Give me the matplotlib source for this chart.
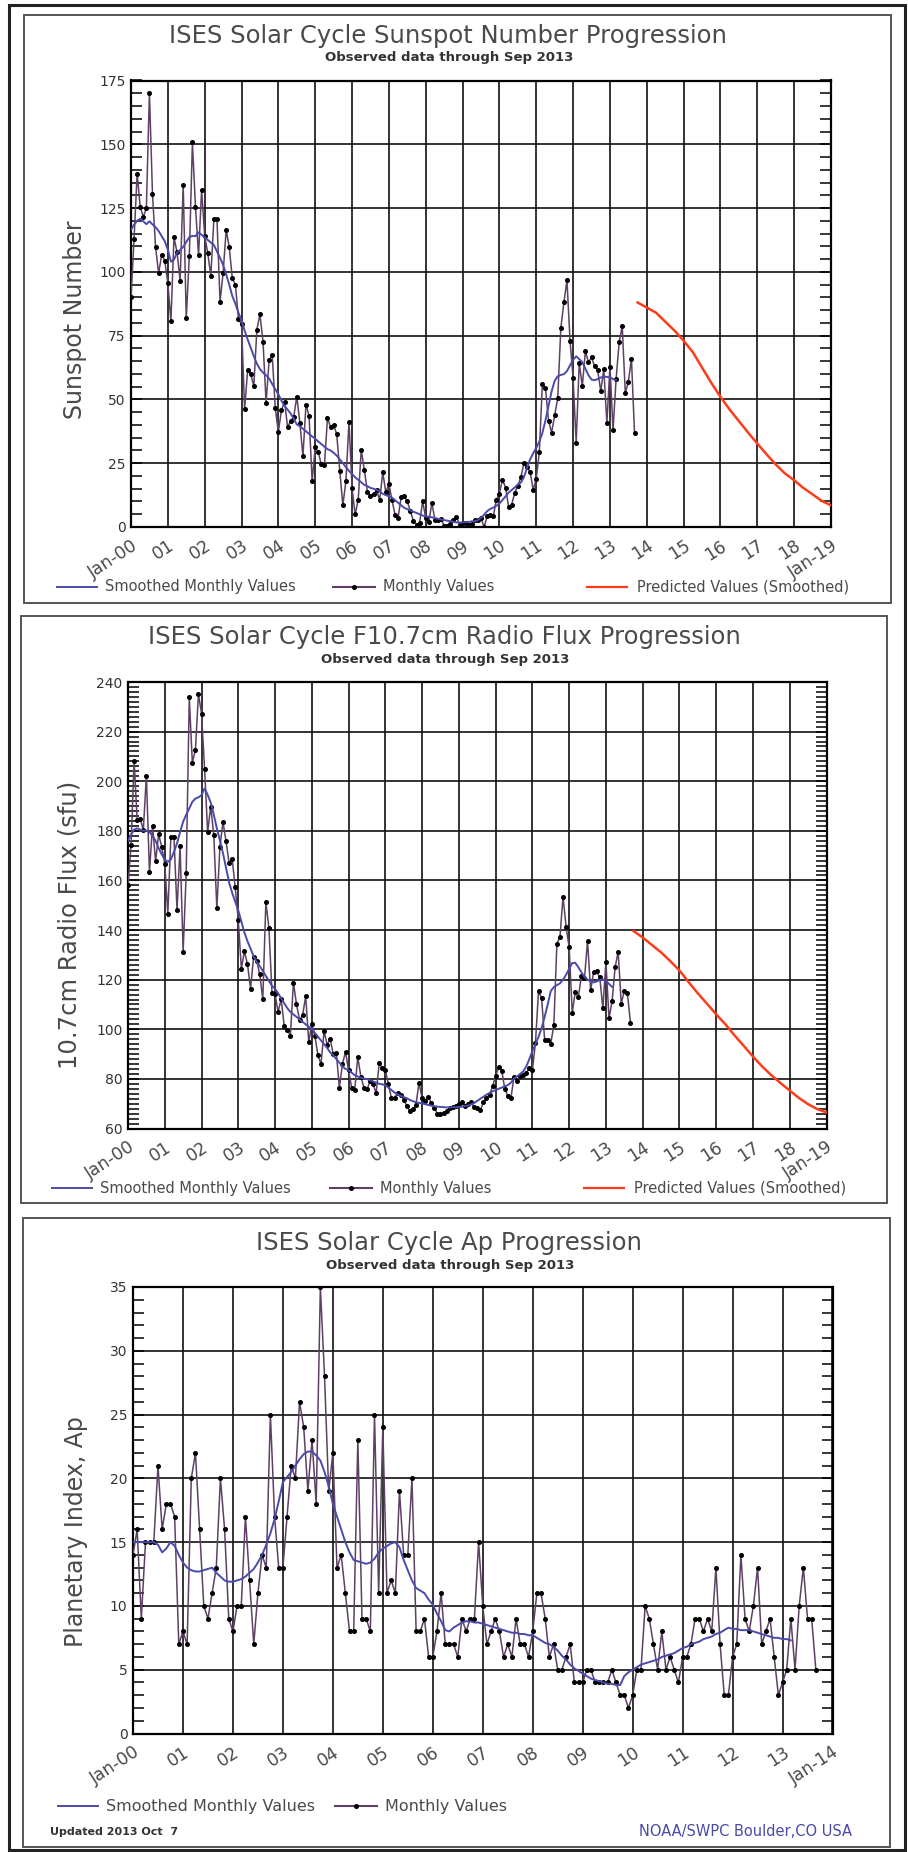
import numpy as np
import matplotlib
matplotlib.use("Agg")
from matplotlib import pyplot as plt
from matplotlib.ticker import MultipleLocator, FixedLocator
from matplotlib.patches import Rectangle

W, H = 908, 1852

# ---- sunspot number (Jan 2000 .. Sep 2013) ----
ssn_monthly = [
    90.1, 112.9, 138.5, 125.5, 121.6, 124.9, 170.1, 130.5, 109.7, 99.4, 106.8, 104.4,
    95.6, 80.6, 113.5, 107.7, 96.6, 134.0, 81.8, 106.4, 150.7, 125.5, 106.5, 132.2,
    114.1, 107.4, 98.4, 120.7, 120.8, 88.3, 99.6, 116.4, 109.6, 97.5, 95.0, 81.6,
    79.5, 46.2, 61.5, 60.0, 55.2, 77.4, 83.3, 72.7, 48.7, 65.5, 67.3, 46.5,
    37.3, 45.8, 49.1, 39.3, 41.5, 43.2, 51.1, 40.9, 27.7, 48.0, 43.5, 17.9,
    31.3, 29.2, 24.5, 24.2, 42.7, 39.3, 40.0, 36.4, 22.1, 8.5, 18.0, 41.2,
    15.3, 4.9, 10.6, 30.2, 22.3, 13.9, 12.2, 12.9, 14.4, 10.5, 21.4, 13.6,
    16.9, 10.6, 4.8, 3.7, 11.7, 12.0, 10.0, 6.2, 2.4, 0.9, 1.7, 10.1,
    3.4, 2.1, 9.3, 2.9, 2.9, 3.1, 0.5, 0.5, 1.1, 2.9, 4.1, 0.8,
    1.5, 1.4, 0.7, 1.2, 2.9, 2.6, 3.5, 0.0, 4.2, 4.6, 4.2, 10.6,
    13.1, 18.6, 15.4, 7.9, 8.8, 13.5, 16.1, 19.6, 25.2, 23.5, 21.6, 14.5,
    19.0, 29.4, 56.2, 54.4, 41.6, 37.0, 43.9, 50.6, 78.0, 88.0, 96.7, 73.0,
    58.3, 33.1, 64.2, 55.2, 69.0, 64.5, 66.5, 63.0, 61.4, 53.3, 61.8, 40.8,
    62.9, 38.1, 57.9, 72.4, 78.7, 52.5, 57.0, 66.0, 36.9,
]
ssn_smoothed = [
    116.5, 118.5, 120.0, 120.8, 119.8, 118.7, 119.8, 118.6, 117.5, 116.0, 114.0, 112.0,
    108.7, 104.0, 104.8, 107.5, 108.6, 109.8, 111.7, 113.6, 114.1, 114.0, 115.5, 114.5,
    113.5, 112.5, 111.5, 110.5, 108.0, 105.5, 102.7, 99.0, 95.0, 90.5, 87.5, 84.0,
    80.9, 77.0, 73.5, 70.2, 67.0, 64.0, 61.9, 60.5, 59.5, 58.2, 56.0, 54.0,
    52.0, 49.5, 47.5, 46.0, 44.5, 42.5, 40.2, 39.5, 38.5, 37.5, 36.5, 35.5,
    34.6, 33.5, 32.5, 31.5, 30.5, 30.0, 29.1, 28.0, 26.5, 25.0, 23.5, 22.0,
    20.8, 19.5, 18.5, 17.5, 16.5, 16.0, 15.3, 15.0, 14.5, 14.0, 13.0, 12.5,
    12.0, 11.5, 10.5, 9.5, 8.5, 7.5, 7.0, 6.5, 6.0, 5.5, 5.0, 4.5,
    4.2, 4.0, 3.8, 3.5, 3.2, 3.0, 2.7, 2.5, 2.3, 2.0, 1.8, 1.7,
    1.8, 1.9, 2.0, 2.2, 2.3, 2.7, 3.6, 4.8, 6.2, 7.1, 7.6, 8.3,
    9.2, 10.6, 12.0, 13.5, 14.5, 15.5, 16.7, 17.4, 19.6, 23.2, 26.5, 28.9,
    31.0, 33.5, 36.9, 41.8, 47.6, 53.2, 57.3, 59.1, 59.6, 59.9, 61.1, 63.4,
    65.5, 66.9, 65.8, 64.6, 62.0, 59.5, 57.8, 57.5, 58.0, 58.6, 59.0, 58.8,
    58.7, 58.0, 57.5,
]
# predicted values, years after Jan 2000
pred_years = [13.75, 14.0, 14.25, 14.5, 14.75, 15.0, 15.25, 15.5, 15.75, 16.0, 16.25,
              16.5, 16.75, 17.0, 17.25, 17.5, 17.75, 18.0, 18.25, 18.5, 18.75, 19.0]
ssn_pred = [88, 86, 84, 80.5, 77, 73, 68.5, 62.5, 56.5, 51, 46, 41.5, 37, 32.7,
            28.5, 24.5, 21, 18.3, 15.3, 12.8, 10.2, 8.5]

# ---- F10.7 radio flux ----
f107_monthly = [
    158.1, 174.1, 208.2, 184.2, 184.8, 180.3, 202.3, 163.3, 182.1, 167.7, 178.6, 173.6,
    166.6, 146.6, 177.7, 177.5, 148.0, 173.7, 131.3, 163.1, 233.9, 207.5, 212.6, 235.1,
    227.3, 205.0, 179.5, 189.8, 178.4, 148.7, 173.5, 183.6, 175.8, 167.0, 168.7, 157.2,
    144.0, 124.5, 131.4, 126.3, 116.3, 129.3, 127.7, 122.1, 112.2, 151.3, 140.8, 114.8,
    114.1, 107.0, 112.1, 101.2, 99.8, 97.4, 118.8, 110.1, 103.7, 105.7, 113.3, 95.0,
    102.1, 97.3, 89.5, 86.0, 99.3, 93.8, 96.0, 90.0, 90.4, 76.5, 86.1, 90.9,
    83.4, 76.5, 75.5, 88.9, 80.9, 76.5, 75.8, 79.0, 77.8, 74.3, 86.3, 84.4,
    83.5, 77.8, 72.2, 72.4, 74.4, 73.7, 71.6, 69.2, 67.1, 67.7, 69.6, 78.5,
    72.1, 71.2, 72.9, 70.2, 68.4, 65.9, 65.7, 66.3, 67.1, 68.3, 68.6, 69.2,
    69.9, 70.6, 69.2, 69.7, 70.5, 68.6, 68.2, 67.4, 70.5, 72.2, 73.6, 77.0,
    81.1, 84.7, 83.3, 75.9, 73.1, 72.3, 80.9, 79.3, 81.1, 81.6, 82.5, 84.3,
    83.6, 94.6, 115.4, 112.6, 95.8, 95.8, 94.2, 101.7, 134.5, 137.2, 153.5, 141.3,
    133.1, 106.7, 115.1, 113.1, 121.5, 120.5, 135.6, 115.7, 123.2, 123.3, 120.9, 108.4,
    127.1, 104.4, 111.2, 125.0, 131.3, 110.2, 115.6, 114.7, 102.7,
]
f107_smoothed = [
    176.0, 178.5, 180.5, 181.0, 180.5, 180.0, 180.1, 179.5, 178.0, 176.0, 173.0, 170.5,
    168.5, 167.5, 168.5, 171.5, 175.0, 179.5, 183.7, 186.5, 189.0, 191.7, 193.0, 193.5,
    194.4, 197.1, 194.5, 191.4, 186.5, 181.0, 176.1, 171.0, 165.0, 159.2, 155.0, 151.5,
    147.9, 143.5, 139.0, 135.5, 132.5, 129.5, 127.1, 125.5, 123.5, 121.5, 119.5, 117.5,
    116.3, 114.5, 112.5, 110.5, 108.5, 107.0, 106.0, 105.0, 104.0, 103.0, 102.0, 101.0,
    100.3, 98.5, 97.0, 95.5, 94.0, 92.5, 90.7, 89.5, 88.0, 86.5, 85.0, 84.0,
    83.5, 82.5, 81.5, 81.0, 80.5, 80.2, 79.9, 79.5, 79.0, 78.5, 78.0, 77.8,
    77.5, 76.5, 75.5, 74.5, 73.8, 73.2, 72.7, 72.2, 71.5, 71.0, 70.6, 70.3,
    70.1, 69.8, 69.5, 69.2, 69.0, 68.8, 68.7, 68.6, 68.5, 68.5, 68.6, 68.6,
    68.7, 68.8, 69.0, 69.3, 69.7, 70.3, 71.1, 72.0, 72.8, 73.6, 74.3, 75.0,
    75.5, 76.0, 76.5, 77.0, 77.5, 78.5, 80.1, 81.0, 82.0, 83.0, 85.0, 88.0,
    91.2, 94.0, 97.0, 100.4, 105.0, 110.0, 115.4, 117.0, 117.8, 118.5, 120.0, 122.0,
    124.4, 126.7, 126.8, 125.0, 123.0, 121.1, 120.0, 119.5, 118.9, 119.3, 119.8, 120.1,
    119.5, 118.3, 117.1,
]
f107_pred = [139.6, 137, 134, 131, 127.5, 123.7, 119, 114.5, 110.3, 106, 102, 97.5,
             93.3, 89, 85, 81.5, 78.3, 75.3, 72.3, 69.8, 67.8, 66.5]

# ---- planetary index Ap ----
ap_monthly = [
    14, 16, 9, 15, 15, 15, 21, 16, 18, 18, 17, 7,
    8, 7, 20, 22, 16, 10, 9, 11, 13, 20, 16, 9,
    8, 10, 10, 17, 12, 7, 11, 14, 13, 25, 17, 13,
    13, 17, 21, 20, 26, 24, 19, 23, 18, 35, 28, 19,
    22, 13, 14, 11, 8, 8, 23, 9, 9, 8, 25, 11,
    24, 11, 12, 11, 19, 14, 14, 20, 8, 8, 9, 6,
    6, 8, 11, 7, 7, 7, 6, 9, 8, 9, 9, 15,
    10, 7, 8, 9, 8, 6, 7, 6, 9, 7, 7, 6,
    8, 11, 11, 9, 6, 7, 5, 5, 6, 7, 4, 4,
    4, 5, 5, 4, 4, 4, 4, 5, 4, 3, 3, 2,
    3, 5, 5, 10, 9, 7, 5, 8, 5, 6, 5, 4,
    6, 6, 7, 9, 9, 8, 9, 8, 13, 7, 3, 3,
    6, 7, 14, 9, 8, 10, 13, 7, 8, 9, 6, 3,
    4, 5, 9, 5, 10, 13, 9, 9, 5,
]
ap_smoothed = [
    15.0, 15.0, 15.0, 15.0, 15.0, 15.0, 14.8, 14.2, 14.5, 15.0, 14.7, 14.0,
    13.4, 13.0, 12.8, 12.7, 12.7, 12.8, 12.9, 13.0, 12.6, 12.3, 12.0, 11.9,
    11.9, 12.0, 12.1, 12.3, 12.6, 12.9, 13.4, 14.0, 14.8, 15.7, 16.8, 18.2,
    19.7, 20.1, 20.5, 21.0, 21.5, 21.9, 22.1, 22.1, 21.8, 21.4, 20.5, 19.4,
    18.0, 17.0, 16.0, 15.0, 14.2, 13.6, 13.5, 13.4, 13.3, 13.4, 13.7, 14.2,
    14.5, 14.7, 14.9, 15.0, 14.6, 13.6, 12.8, 12.0, 11.4, 11.2, 11.0, 10.5,
    10.1, 9.4, 8.8, 8.1, 8.0, 8.3, 8.5, 8.7, 8.8, 8.8, 8.7, 8.7,
    8.6, 8.5, 8.4, 8.3, 8.2, 8.1, 8.0, 7.9, 7.9, 7.8, 7.8, 7.7,
    7.7, 7.5, 7.3, 7.1, 7.0, 6.8, 6.5, 6.1, 5.8, 5.4, 5.1, 4.9,
    4.7, 4.5, 4.3, 4.2, 4.1, 4.0, 3.9, 3.9, 3.8, 3.8, 4.5, 4.8,
    5.0, 5.2, 5.4, 5.5, 5.6, 5.7, 5.8, 6.0, 6.1, 6.2, 6.3, 6.5,
    6.7, 6.8, 7.0, 7.1, 7.2, 7.4, 7.5, 7.6, 7.8, 7.9, 8.1, 8.3,
    8.2, 8.2, 8.1, 8.1, 8.1, 8.0, 7.9, 7.8, 7.7, 7.6, 7.5, 7.5,
    7.4, 7.4, 7.3,
]

labels_19 = ["Jan-00"] + ["%02d" % y for y in range(1, 19)] + ["Jan-19"]
labels_14 = ["Jan-00"] + ["%02d" % y for y in range(1, 14)] + ["Jan-14"]

BLUE = "#4a4aaa"
PURPLE = "#5e4064"
RED = "#ff3c1a"
TXT = "#333333"
LBL = "#4a4a4a"

plt.rcParams["font.family"] = "DejaVu Sans"

fig = plt.figure(figsize=(W / 100, H / 100), dpi=100)


def px_box(l, t, r, b):
    return [l / W, 1 - b / H, (r - l) / W, (b - t) / H]


# overlay in pixel coordinates for frames, titles and legend keys
ov = fig.add_axes([0, 0, 1, 1])
ov.set_xlim(0, W)
ov.set_ylim(H, 0)
ov.axis("off")

ov.add_patch(Rectangle((9, 5), 896, 1845, fill=False, lw=2.2, ec="#222222"))
for l, t, r, b in [(24, 15, 891, 603), (21, 616, 887, 1203), (23, 1218, 890, 1847)]:
    ov.add_patch(Rectangle((l, t), r - l, b - t, fill=False, lw=1.4, ec="#555555"))


def panel(box, nyears, ylim, ymaj, ystep, xlabels):
    ax = fig.add_axes(px_box(*box))
    ax.set_xlim(0, nyears)
    ax.set_ylim(*ylim)
    ax.xaxis.set_major_locator(FixedLocator(range(nyears + 1)))
    ax.set_xticklabels(xlabels, rotation=33, ha="right", va="top",
                       rotation_mode="anchor", fontsize=12.5, color=LBL)
    ax.tick_params(axis="x", length=0, pad=7)
    ax.yaxis.set_major_locator(MultipleLocator(ymaj))
    ax.yaxis.set_minor_locator(MultipleLocator(ystep))
    ax.tick_params(axis="y", which="both", direction="in", left=True, right=True,
                   length=8, width=1.1, labelsize=10, labelcolor=TXT, pad=4)
    ax.grid(True, which="major", color="#111111", lw=1.2)
    ax.set_axisbelow(True)
    ax.patch.set_alpha(0)
    for s in ax.spines.values():
        s.set_linewidth(1.6)
    return ax


def observed(ax, monthly, smoothed):
    t = np.arange(len(monthly)) / 12.0
    ts = np.arange(len(smoothed)) / 12.0
    ax.plot(t, monthly, color=PURPLE, lw=1.1, marker="o", ms=2.6, mfc="k", mec="k", zorder=3)
    ax.plot(ts, smoothed, color=BLUE, lw=1.4, zorder=4)


def legend_row(y, xs, size, red=None):
    x0 = xs[0]
    ov.plot([x0, x0 + 40], [y, y], color=BLUE, lw=1.4)
    ov.text(x0 + 48, y, "Smoothed Monthly Values", fontsize=size, color=LBL, va="center")
    x1 = xs[1]
    ov.plot([x1, x1 + 42], [y, y], color=PURPLE, lw=1.5)
    ov.plot([x1 + 21], [y], "o", ms=2.6, color="k")
    ov.text(x1 + 50, y, "Monthly Values", fontsize=size, color=LBL, va="center")
    if red is not None:
        ov.plot([red, red + 40], [y, y], color=RED, lw=1.6)
        ov.text(red + 50, y, "Predicted Values (Smoothed)", fontsize=size, color=LBL, va="center")


def titles(x, y, title):
    ov.text(x, y, title, fontsize=17.5, color=LBL, ha="center", va="center")
    ov.text(x + 1, y + 22, "Observed data through Sep 2013", fontsize=9.5,
            fontweight="bold", color=TXT, ha="center", va="center")


#%% sunspot number
ax1 = panel((131, 80.5, 831, 527), 19, (0, 175), 25, 5, labels_19)
observed(ax1, ssn_monthly, ssn_smoothed)
ax1.plot(pred_years, ssn_pred, color=RED, lw=1.8, zorder=4)
titles(448, 36, "ISES Solar Cycle Sunspot Number Progression")
ov.text(75, 320, "Sunspot Number", fontsize=17, color=LBL, rotation=90, ha="center", va="center")
legend_row(587, (57, 333), 10.5, red=587)

#%% F10.7
ax2 = panel((128, 682, 826.5, 1128.5), 19, (60, 240), 20, 2, labels_19)
observed(ax2, f107_monthly, f107_smoothed)
ax2.plot(pred_years, f107_pred, color=RED, lw=1.8, zorder=4)
titles(444, 637, "ISES Solar Cycle F10.7cm Radio Flux Progression")
ov.text(70, 925, "10.7cm Radio Flux (sfu)", fontsize=17.5, color=LBL, rotation=90, ha="center", va="center")
legend_row(1188, (52, 330), 10.5, red=584)

#%% Ap
ax3 = panel((133, 1287, 832.5, 1733.5), 14, (0, 35), 5, 1, labels_14)
observed(ax3, ap_monthly, ap_smoothed)
titles(449, 1243, "ISES Solar Cycle Ap Progression")
ov.text(76, 1532, "Planetary Index, Ap", fontsize=17, color=LBL, rotation=90, ha="center", va="center")
legend_row(1806, (58, 335), 11.5)
ov.text(50, 1832, "Updated 2013 Oct  7", fontsize=8, fontweight="bold", color=TXT, va="center")
ov.text(852, 1832, "NOAA/SWPC Boulder,CO USA", fontsize=10.5, color=BLUE, ha="right", va="center")

fig.savefig("out.png", dpi=100)
